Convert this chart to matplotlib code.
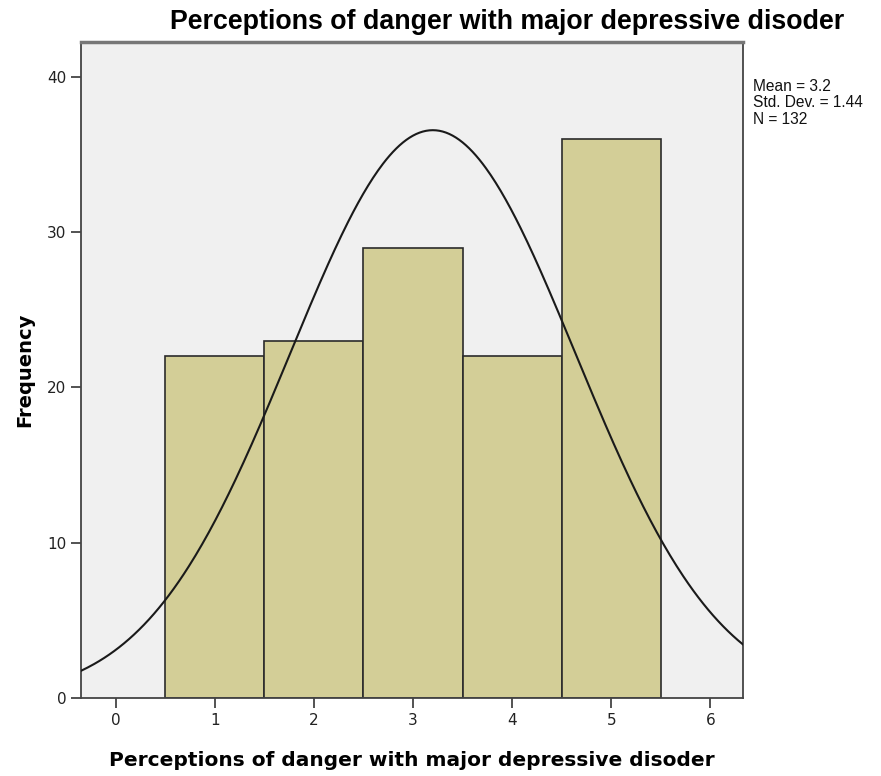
import numpy as np
import matplotlib.pyplot as plt

plt.rcParams['font.family'] = ['Liberation Sans', 'DejaVu Sans']

# Data
scores = [1, 2, 3, 4, 5]
counts = [22, 23, 29, 22, 36]
mean_val = 3.2
std_val = 1.44
n_total = 132
title = 'Perceptions of danger with major depressive disoder'

fig = plt.figure(figsize=(8.81, 7.76), dpi=100)
ax = fig.add_axes([0.0919, 0.1005, 0.7515, 0.8454])
ax.set_facecolor('#F0F0F0')

ax.bar(scores, counts, width=1.0, color='#D3CE97', edgecolor='#2b2b2b',
       linewidth=1.2, zorder=2)

# Normal curve scaled to counts (bin width 1)
x = np.linspace(-0.35, 6.33, 400)
y = n_total / (std_val * np.sqrt(2 * np.pi)) * np.exp(-0.5 * ((x - mean_val) / std_val) ** 2)
ax.plot(x, y, color='#1a1a1a', linewidth=1.5, zorder=3)

ax.set_xlim(-0.35, 6.33)
ax.set_ylim(0, 42.25)
ax.set_xticks(range(0, 7))
ax.set_yticks([0, 10, 20, 30, 40])

for side in ['left', 'bottom', 'right']:
    ax.spines[side].set_color('#444444')
    ax.spines[side].set_linewidth(1.3)
ax.spines['top'].set_color('#777777')
ax.spines['top'].set_linewidth(2.5)

ax.tick_params(axis='both', length=7, width=1.3, color='#444444',
               labelsize=11, labelcolor='#222222')
for lab in ax.get_xticklabels() + ax.get_yticklabels():
    lab.set_family('DejaVu Sans')

fig.text(507 / 881, 1 - 22 / 776, title, fontsize=19.3, fontweight='bold',
         ha='center', va='center')
ax.set_xlabel(title, fontsize=14.5, fontweight='bold', family='DejaVu Sans', labelpad=17)
ax.set_ylabel('Frequency', fontsize=14, fontweight='bold', family='DejaVu Sans', labelpad=9)

fig.text(0.855, 0.898, f'Mean = {mean_val}\nStd. Dev. = {std_val}\nN = {n_total}',
         fontsize=11.2, va='top', ha='left', linespacing=1.1, color='#111111')

fig.savefig('out.png', dpi=100)
